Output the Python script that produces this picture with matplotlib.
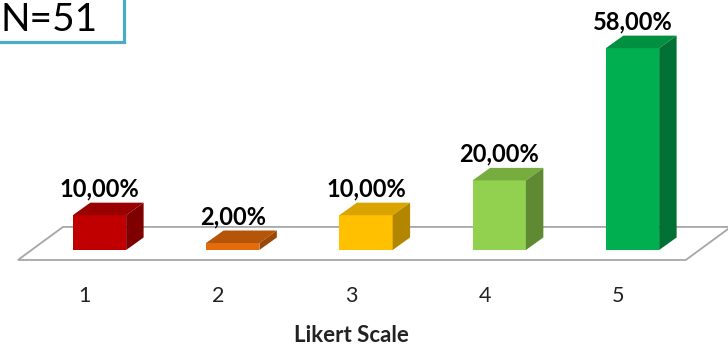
import numpy as np
from matplotlib import pyplot as plt
from matplotlib.patches import Polygon, Rectangle

plt.rcParams['font.family'] = ['Lato', 'DejaVu Sans']

# dados
categorias = ['1', '2', '3', '4', '5']
valores = [10, 2, 10, 20, 58]
rotulos = ['10,00%', '2,00%', '10,00%', '20,00%', '58,00%']
cor_frente = ['#C00000', '#E46C0A', '#FFC000', '#92D050', '#00B050']
cor_topo = ['#990000', '#B55508', '#D9A300', '#77AD3F', '#00903F']
cor_lado = ['#7F0000', '#9A4806', '#B38600', '#5F8A32', '#007033']

fig = plt.figure(figsize=(7.28, 3.45), dpi=100)
ax = fig.add_axes([0, 0, 1, 1])
ax.set_xlim(0.2533, 5.7167)
ax.set_ylim(-27.3, 71.84)
ax.axis('off')

x = np.arange(1, len(valores) + 1)
larg = 0.40
dx, dy = 0.131, 3.6     # profundidade das barras
fdx, fdy = 0.338, 9.5   # profundidade do piso

# piso
x0, x1, yf = 0.388, 5.40, -2.87
piso = Polygon([(x0, yf), (x1, yf), (x1 + fdx, yf + fdy), (x0 + fdx, yf + fdy)],
               closed=True, facecolor='white', edgecolor='#A6A6A6', lw=1.3, zorder=1)
ax.add_patch(piso)

# barras (frente + topo + lado)
ax.bar(x, valores, width=larg, color=cor_frente, zorder=3)
for xi, v, ct, cl in zip(x, valores, cor_topo, cor_lado):
    e, d = xi - larg / 2, xi + larg / 2
    topo = Polygon([(e, v), (d, v), (d + dx, v + dy), (e + dx, v + dy)],
                   closed=True, facecolor=ct, edgecolor='none', zorder=3)
    lado = Polygon([(d, 0), (d + dx, dy), (d + dx, v + dy), (d, v)],
                   closed=True, facecolor=cl, edgecolor='none', zorder=3)
    ax.add_patch(topo)
    ax.add_patch(lado)

# rotulos de valor
for xi, v, r in zip(x, valores, rotulos):
    ax.text(xi, v + dy + 1.8, r, ha='center', va='baseline',
            fontsize=17, fontweight='bold', color='black', zorder=4)

# categorias e titulo do eixo
for xi, c in zip(x, categorias):
    ax.text(xi - 0.109, -13.2, c, ha='center', va='center', fontsize=15.5, color='#222222')
ax.text(3 - 0.109, -24.6, 'Likert Scale', ha='center', va='center',
        fontsize=16, fontweight='bold', color='#222222')

# caixa N=51
fig.patches.append(Rectangle((-5 / 728, 1 - 42 / 345), 129 / 728, 50 / 345,
                             transform=fig.transFigure, facecolor='white',
                             edgecolor='#4BACC6', lw=2.3, zorder=5))
fig.text(0.0, 1 - 31 / 345, 'N=51', ha='left', va='baseline', fontsize=28, zorder=6)

fig.savefig('out.png', dpi=100)
